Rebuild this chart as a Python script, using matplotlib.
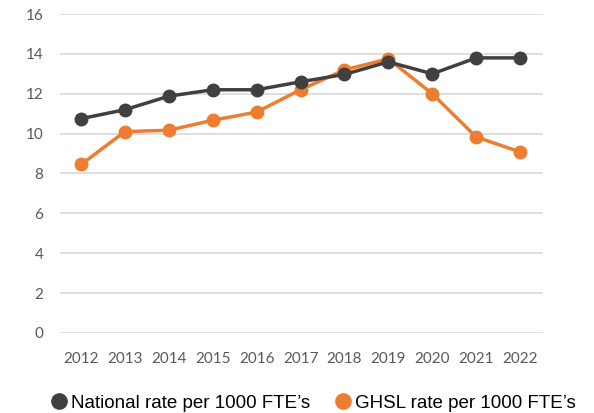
import matplotlib.pyplot as plt
from matplotlib.lines import Line2D

years = [2012, 2013, 2014, 2015, 2016, 2017, 2018, 2019, 2020, 2021, 2022]
national = [10.75, 11.2, 11.88, 12.2, 12.2, 12.6, 12.97, 13.6, 13.0, 13.8, 13.8]
ghsl = [8.45, 10.1, 10.17, 10.67, 11.08, 12.2, 13.2, 13.75, 12.0, 9.83, 9.08]
yticks = [0, 2, 4, 6, 8, 10, 12, 14, 16]

grey_line = "#404040"
orange = "#ED7D31"

fig = plt.figure(figsize=(5.94, 4.13), dpi=100)
ax = fig.add_axes([0.101, 0.194, 0.813, 0.772])

ax.plot(years, national, color=grey_line, lw=2.5, marker="o", ms=9, zorder=3)
ax.plot(years, ghsl, color=orange, lw=2.5, marker="o", ms=9, zorder=2)

ax.set_xlim(2011.52, 2022.52)
ax.set_ylim(0, 16)
ax.set_xticks(years)
ax.set_yticks(yticks)
ax.grid(axis="y", color="#d9d9d9", lw=1.2)
ax.set_axisbelow(True)
for s in ax.spines.values():
    s.set_visible(False)
ax.tick_params(length=0, colors="#595959", labelsize=11)
for lab in ax.get_xticklabels() + ax.get_yticklabels():
    lab.set_family("Lato")
ax.tick_params(axis="x", pad=14)
ax.tick_params(axis="y", pad=12)

handles = [
    Line2D([], [], color=grey_line, marker="o", ls="none", ms=11),
    Line2D([], [], color=orange, marker="o", ls="none", ms=11),
]
fig.legend(handles, ["National rate per 1000 FTE\u2019s", "GHSL rate per 1000 FTE\u2019s"],
           loc="center", bbox_to_anchor=(0.526, 0.024), ncol=2, frameon=False,
           handletextpad=0.14, columnspacing=1.26, handlelength=1.0,
           borderpad=0, prop={"family": "Liberation Sans", "size": 13.5})

fig.savefig("out.png", dpi=100)
